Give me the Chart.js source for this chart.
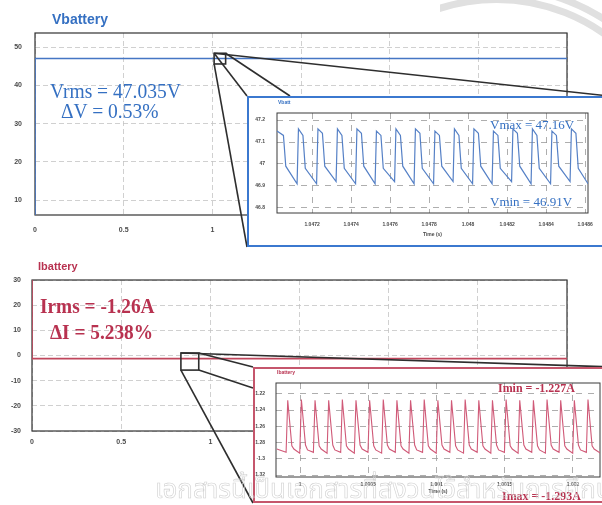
<!DOCTYPE html>
<html>
<head>
<meta charset="utf-8">
<script src="https://cdn.jsdelivr.net/npm/chart.js@4.4.1/dist/chart.umd.min.js"></script>
<style>
  html, body { margin: 0; padding: 0; background: #fff; }
  #page { position: relative; width: 602px; height: 505px; overflow: hidden; background: #fff; }
  #page canvas { position: absolute; }
  .txt { position: absolute; white-space: nowrap; line-height: 1; z-index: 3; transform-origin: 0 0; }
  .title { font-family: "Liberation Sans", Arial, sans-serif; font-weight: bold; }
  .serif { font-family: "Liberation Serif", "Times New Roman", serif; }
  .blue { color: #3570c2; }
  .red { color: #b83250; }
  .inset { position: absolute; background: #fff; z-index: 2; }
  .inset canvas { left: 0; top: 0; }
  #arcs { position: absolute; left: 440px; top: 0; width: 162px; height: 60px; overflow: hidden; z-index: 4; }
  #arcs div { position: absolute; border: 7px solid #e0e0e0; border-radius: 50%; box-sizing: border-box; }
  #wm { position: absolute; left: 155px; top: 470px; z-index: 5; white-space: nowrap;
        font-family: "Noto Sans Thai", "Noto Sans", "DejaVu Sans", sans-serif; font-size: 26px;
        color: transparent; -webkit-text-stroke: 0.6px #d0d0d0; }
</style>
</head>
<body>
<div id="page">
  <canvas id="vMain" width="602" height="250" style="left:0;top:0;z-index:1"></canvas>
  <canvas id="iMain" width="602" height="255" style="left:0;top:250px;z-index:1"></canvas>

  <div id="vInset" class="inset" style="left:247px;top:96px;width:358px;height:147px;border:2px solid #3b78cf">
    <canvas id="vZoom" width="358" height="147"></canvas>
  </div>
  <div id="iInset" class="inset" style="left:253px;top:367px;width:356px;height:132px;border:2px solid #c5566c">
    <canvas id="iZoom" width="356" height="132"></canvas>
  </div>

  <div class="txt title blue" style="left:52px;top:11.5px;font-size:14px">Vbattery</div>
  <div class="txt title red" style="left:38px;top:260.5px;font-size:11px">Ibattery</div>

  <div class="txt serif blue" style="left:50px;top:81px;font-size:21px;transform:scaleX(0.93)">Vrms = 47.035V</div>
  <div class="txt serif blue" style="left:61px;top:101px;font-size:21px;transform:scaleX(0.93)">&Delta;V = 0.53%</div>
  <div class="txt serif red" style="left:40px;top:296px;font-size:21px;font-weight:bold;transform:scaleX(0.92)">Irms = -1.26A</div>
  <div class="txt serif red" style="left:50px;top:322px;font-size:21px;font-weight:bold;transform:scaleX(0.92)">&Delta;I = 5.238%</div>

  <div class="txt title blue" style="left:278px;top:100px;font-size:5px">Vbatt</div>
  <div class="txt title red" style="left:277px;top:370px;font-size:5px">Ibattery</div>
  <div class="txt serif blue" style="left:490px;top:117.5px;font-size:13px">Vmax = 47.16V</div>
  <div class="txt serif blue" style="left:490px;top:194.5px;font-size:13px">Vmin = 46.91V</div>
  <div class="txt serif red" style="left:498px;top:380.5px;font-size:13px;font-weight:bold;transform:scaleX(0.92)">Imin = -1.227A</div>
  <div class="txt serif red" style="left:502px;top:488.5px;font-size:13px;font-weight:bold;transform:scaleX(0.92)">Imax = -1.293A</div>

  <div id="arcs">
    <div style="left:-133.5px;top:-4.5px;width:379px;height:379px"></div>
    <div style="left:-145.5px;top:-16.5px;width:403px;height:403px"></div>
  </div>
  <div id="wm">เอกสารนี้เป็นเอกสารที่สงวนไว้สำหรับการศึกษาเท่านั้น</div>
</div>

<script>
// full-run traces (time in s)
const vMainTime = [0, 0, 3];
const vMainVolts = [0, 47.035, 47.035];
const iMainTime = [0, 0, 3];
const iMainAmps = [34, -1.26, -1.26];

const mainXTicks = [0, 0.5, 1, 1.5, 2, 2.5, 3];
const vMainYTicks = [10, 20, 30, 40, 50];
const iMainYTicks = [-30, -20, -10, 0, 10, 20, 30];

// zoomed regions on the main plots: [t0, t1, y0, y1]
const vZoomBox = [1.01, 1.075, 45.6, 48.4];
const iZoomBox = [0.835, 0.935, -5.8, 1];

// battery voltage ripple around t = 1.047 s
const vRippleTime = [
  1.04702, 1.047053, 1.047065,
  1.047123, 1.04713, 1.047153, 1.047165,
  1.047223, 1.04723, 1.047253, 1.047265,
  1.047323, 1.04733, 1.047353, 1.047365,
  1.047423, 1.04743, 1.047453, 1.047465,
  1.047523, 1.04753, 1.047553, 1.047565,
  1.047623, 1.04763, 1.047653, 1.047665,
  1.047723, 1.04773, 1.047753, 1.047765,
  1.047823, 1.04783, 1.047853, 1.047865,
  1.047923, 1.04793, 1.047953, 1.047965,
  1.048023, 1.04803, 1.048053, 1.048065,
  1.048123, 1.04813, 1.048153, 1.048165,
  1.048223, 1.04823, 1.048253, 1.048265,
  1.048323, 1.04833, 1.048353, 1.048365,
  1.048423, 1.04843, 1.048453, 1.048465,
  1.048523, 1.04853, 1.048553, 1.048565,
  1.048615
];
const vRippleVolts = [
  47.15, 47.13, 46.99,
  46.91, 47.16, 47.13, 46.98,
  46.91, 47.16, 47.14, 46.99,
  46.92, 47.16, 47.13, 46.98,
  46.91, 47.16, 47.14, 46.99,
  46.91, 47.15, 47.13, 46.98,
  46.92, 47.16, 47.13, 46.99,
  46.91, 47.16, 47.14, 46.98,
  46.91, 47.15, 47.13, 46.99,
  46.92, 47.16, 47.13, 46.98,
  46.91, 47.16, 47.14, 46.99,
  46.91, 47.15, 47.13, 46.98,
  46.92, 47.16, 47.14, 46.99,
  46.91, 47.16, 47.13, 46.98,
  46.91, 47.15, 47.13, 46.99,
  46.92, 47.16, 47.14, 46.98,
  46.91
];
const vZoomXTicks = [1.0472, 1.0474, 1.0476, 1.0478, 1.048, 1.0482, 1.0484, 1.0486];
const vZoomYTicks = [46.8, 46.9, 47, 47.1, 47.2];

// battery current ripple around t = 1.000 s
const iRippleTime = [
  0.99983,
  0.999898, 0.99991, 0.99994, 0.999955,
  0.999998, 1.00001, 1.00004, 1.000055,
  1.000098, 1.00011, 1.00014, 1.000155,
  1.000198, 1.00021, 1.00024, 1.000255,
  1.000298, 1.00031, 1.00034, 1.000355,
  1.000398, 1.00041, 1.00044, 1.000455,
  1.000498, 1.00051, 1.00054, 1.000555,
  1.000598, 1.00061, 1.00064, 1.000655,
  1.000698, 1.00071, 1.00074, 1.000755,
  1.000798, 1.00081, 1.00084, 1.000855,
  1.000898, 1.00091, 1.00094, 1.000955,
  1.000998, 1.00101, 1.00104, 1.001055,
  1.001098, 1.00111, 1.00114, 1.001155,
  1.001198, 1.00121, 1.00124, 1.001255,
  1.001298, 1.00131, 1.00134, 1.001355,
  1.001398, 1.00141, 1.00144, 1.001455,
  1.001498, 1.00151, 1.00154, 1.001555,
  1.001598, 1.00161, 1.00164, 1.001655,
  1.001698, 1.00171, 1.00174, 1.001755,
  1.001798, 1.00181, 1.00184, 1.001855,
  1.001898, 1.00191, 1.00194, 1.001955,
  1.001998, 1.00201, 1.00204, 1.002055,
  1.002098, 1.00211, 1.00214, 1.002155,
  1.0022
];
const iRippleAmps = [
  -1.288,
  -1.292, -1.228, -1.284, -1.288,
  -1.293, -1.227, -1.283, -1.289,
  -1.292, -1.228, -1.284, -1.288,
  -1.293, -1.228, -1.283, -1.289,
  -1.292, -1.227, -1.284, -1.288,
  -1.293, -1.228, -1.283, -1.288,
  -1.292, -1.228, -1.284, -1.289,
  -1.293, -1.227, -1.283, -1.288,
  -1.292, -1.228, -1.284, -1.288,
  -1.293, -1.228, -1.283, -1.289,
  -1.292, -1.227, -1.284, -1.288,
  -1.293, -1.228, -1.283, -1.288,
  -1.292, -1.228, -1.284, -1.289,
  -1.293, -1.227, -1.283, -1.288,
  -1.292, -1.228, -1.284, -1.288,
  -1.293, -1.228, -1.283, -1.289,
  -1.292, -1.227, -1.284, -1.288,
  -1.293, -1.228, -1.283, -1.288,
  -1.292, -1.228, -1.284, -1.289,
  -1.293, -1.227, -1.283, -1.288,
  -1.292, -1.228, -1.284, -1.288,
  -1.293, -1.228, -1.283, -1.289,
  -1.292, -1.227, -1.284, -1.288,
  -1.293
];
const iZoomXTicks = [1, 1.0005, 1.001, 1.0015, 1.002];
const iZoomYTicks = [-1.32, -1.3, -1.28, -1.26, -1.24, -1.22];

const toXY = (xs, ys) => xs.map((x, i) => ({ x: x, y: ys[i] }));

// box around the plot area
const framePlugin = {
  id: 'frame',
  beforeDatasetsDraw(chart, args, opts) {
    const { ctx, chartArea: a } = chart;
    ctx.save();
    ctx.strokeStyle = opts.color || '#333';
    ctx.lineWidth = opts.width || 1;
    ctx.strokeRect(a.left, a.top, a.right - a.left, a.bottom - a.top);
    ctx.restore();
  }
};

// zoom rectangle on the main plot and the lines running out to its inset
const zoomLinksPlugin = {
  id: 'zoomLinks',
  afterDraw(chart, args, opts) {
    if (!opts.box) return;
    const { ctx, scales: { x, y } } = chart;
    const [t0, t1, y0, y1] = opts.box;
    const L = x.getPixelForValue(t0), R = x.getPixelForValue(t1);
    const T = y.getPixelForValue(y1), B = y.getPixelForValue(y0);
    const corner = { tl: [L, T], tr: [R, T], bl: [L, B], br: [R, B] };

    const el = document.getElementById(opts.inset);
    const ix = el.offsetLeft - chart.canvas.offsetLeft;
    const iy = el.offsetTop - chart.canvas.offsetTop;
    const iw = el.offsetWidth, ih = el.offsetHeight;
    const anchor = a => {
      if (a === 'tl') return [ix, iy];
      if (a === 'tr') return [ix + iw, iy];
      if (a === 'bl') return [ix, iy + ih];
      return [ix + a[0], iy + a[1]];
    };

    ctx.save();
    ctx.strokeStyle = '#2e2e2e';
    ctx.lineWidth = 1.6;
    ctx.strokeRect(L, T, R - L, B - T);
    opts.links.forEach(([from, to]) => {
      const p = corner[from], q = anchor(to);
      ctx.beginPath();
      ctx.moveTo(p[0], p[1]);
      ctx.lineTo(q[0], q[1]);
      ctx.stroke();
    });
    ctx.restore();
  }
};

Chart.register(framePlugin, zoomLinksPlugin);

function axis(o) {
  return {
    type: 'linear',
    min: o.min,
    max: o.max,
    afterBuildTicks: a => { a.ticks = o.ticks.map(v => ({ value: v })); },
    afterFit: a => { if (o.width !== undefined) a.width = o.width; if (o.height !== undefined) a.height = o.height; },
    ticks: {
      autoSkip: false, maxRotation: 0, padding: o.pad, color: '#4a4a4a',
      font: { family: 'Liberation Sans, Arial, sans-serif', size: o.font, weight: 'bold' },
      callback: v => String(v)
    },
    grid: { color: o.gridColor || '#c4c4c4', lineWidth: 0.8, drawTicks: false },
    border: { display: false, dash: o.dash || [5, 3] },
    title: o.title ? {
      display: true, text: o.title, color: '#4a4a4a',
      font: { family: 'Liberation Sans, Arial, sans-serif', size: o.font, weight: 'bold' },
      padding: { top: 0, bottom: o.titlePad }
    } : { display: false }
  };
}

function lineChart(id, cfg) {
  return new Chart(document.getElementById(id), {
    type: 'line',
    data: {
      datasets: [{
        data: cfg.data,
        borderColor: cfg.color,
        borderWidth: cfg.lineWidth,
        pointRadius: 0,
        tension: 0,
        fill: false
      }]
    },
    options: {
      responsive: false,
      animation: false,
      events: [],
      layout: { padding: cfg.padding },
      plugins: {
        legend: { display: false },
        tooltip: { enabled: false },
        frame: { color: cfg.frameColor || '#333', width: cfg.frameWidth || 1.2 },
        zoomLinks: cfg.links || {}
      },
      scales: { x: cfg.x, y: cfg.y }
    }
  });
}

// Vbattery, 0..3 s
lineChart('vMain', {
  data: toXY(vMainTime, vMainVolts),
  color: '#4676c4', lineWidth: 1.6,
  padding: { top: 33, right: 35, left: 0, bottom: 0 },
  x: axis({ min: 0, max: 3, ticks: mainXTicks, height: 35, pad: 11, font: 7 }),
  y: axis({ min: 6.1, max: 53.7, ticks: vMainYTicks, width: 35, pad: 13, font: 7 }),
  links: { box: vZoomBox, inset: 'vInset', links: [['tl', 'tl'], ['tl', 'tr'], ['tr', [43, 0]], ['bl', 'bl']] }
});

// Ibattery, 0..3 s
lineChart('iMain', {
  data: toXY(iMainTime, iMainAmps),
  color: '#c0465c', lineWidth: 1.6,
  padding: { top: 30, right: 35, left: 0, bottom: 0 },
  x: axis({ min: 0, max: 3, ticks: mainXTicks, height: 74, pad: 7, font: 7 }),
  y: axis({ min: -30, max: 30, ticks: iMainYTicks, width: 32, pad: 11, font: 7 }),
  links: { box: iZoomBox, inset: 'iInset', links: [['tr', 'tl'], ['tl', 'tr'], ['br', [0, 21]], ['bl', 'bl']] }
});

// Vbattery ripple
lineChart('vZoom', {
  data: toXY(vRippleTime, vRippleVolts),
  color: '#5580c6', lineWidth: 1.2,
  padding: { top: 15, right: 19, left: 0, bottom: 0 },
  frameColor: '#3a3a3a', frameWidth: 1,
  x: axis({ min: 1.04702, max: 1.048615, ticks: vZoomXTicks, height: 32, pad: 9, font: 5, dash: [6, 6], gridColor: '#9a9a9a', title: 'Time (s)', titlePad: 7 }),
  y: axis({ min: 46.777, max: 47.232, ticks: vZoomYTicks, width: 28, pad: 12, font: 5, dash: [6, 6], gridColor: '#9a9a9a' })
});

// Ibattery ripple
lineChart('iZoom', {
  data: toXY(iRippleTime, iRippleAmps),
  color: '#d05a78', lineWidth: 1.1,
  padding: { top: 13, right: 11, left: 0, bottom: 0 },
  frameColor: '#3a3a3a', frameWidth: 1,
  x: axis({ min: 0.999824, max: 1.002198, ticks: iZoomXTicks, height: 24, pad: 5, font: 5, dash: [6, 6], gridColor: '#9a9a9a', title: 'Time (s)', titlePad: 6 }),
  y: axis({ min: -1.3224, max: -1.2066, ticks: iZoomYTicks, width: 21, pad: 11, font: 5, dash: [6, 6], gridColor: '#9a9a9a' })
});
</script>
</body>
</html>
